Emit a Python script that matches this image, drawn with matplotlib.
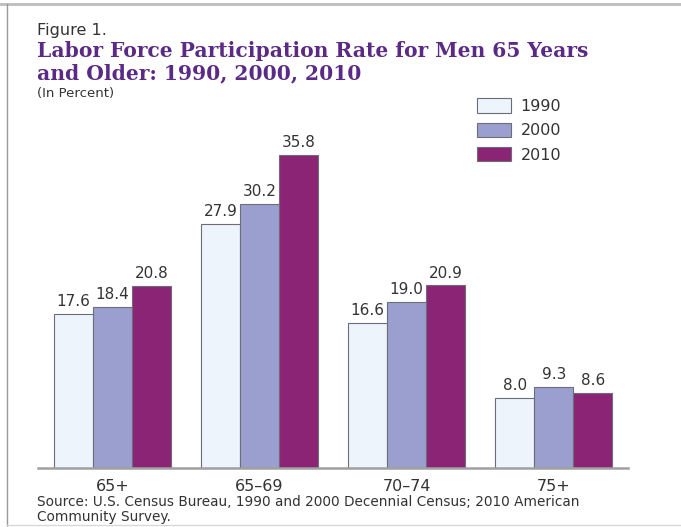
import matplotlib
matplotlib.use("Agg")
import matplotlib.pyplot as plt
import numpy as np
from matplotlib.lines import Line2D

categories = ["65+", "65\u201369", "70\u201374", "75+"]
years = ["1990", "2000", "2010"]
values_1990 = [17.6, 27.9, 16.6, 8.0]
values_2000 = [18.4, 30.2, 19.0, 9.3]
values_2010 = [20.8, 35.8, 20.9, 8.6]

colors = ["#eef4fc", "#9a9fd0", "#8c2475"]
edge = "#6d6d7a"
title_color = "#5a2a84"
text_color = "#333333"

W, H = 681, 527
fig = plt.figure(figsize=(W / 100, H / 100), dpi=100)
fig.patch.set_facecolor("white")

# axes placement in pixels
ax_left, ax_right, ax_base, ax_top = 38, 628, 468, 130
ax = fig.add_axes([ax_left / W, 1 - ax_base / H, (ax_right - ax_left) / W, (ax_base - ax_top) / H])

x = np.arange(len(categories))
bw = 0.265
series = [values_1990, values_2000, values_2010]
handles = []
for i, (vals, c, yr) in enumerate(zip(series, colors, years)):
    pos = x + (i - 1) * bw
    b = ax.bar(pos, vals, width=bw, color=c, edgecolor=edge, linewidth=0.8, label=yr, zorder=2)
    handles.append(b)
    for p, v in zip(pos, vals):
        ax.text(p, v + 0.55, f"{v:.1f}", ha="center", va="bottom", fontsize=11,
                color=text_color, family="DejaVu Sans")

ax.set_xlim(-0.505, 3.505)
ax.set_ylim(0, (ax_base - ax_top) / 8.74)
for s in ["top", "right", "left"]:
    ax.spines[s].set_visible(False)
ax.spines["bottom"].set_color("#a0a0a0")
ax.spines["bottom"].set_linewidth(1.8)
ax.set_yticks([])
ax.set_xticks(x)
ax.set_xticklabels(categories, fontsize=11.5, color=text_color, family="DejaVu Sans")
ax.tick_params(axis="x", length=0, pad=8)

# legend
ax.legend(handles=handles, loc="upper left", bbox_to_anchor=(463 / W, 1 - 84 / H),
          bbox_transform=fig.transFigure, frameon=False, labelcolor=text_color,
          handlelength=2.1, handleheight=1.0, labelspacing=0.55, handletextpad=0.6,
          prop={"family": "DejaVu Sans", "size": 11.5})

# titles
fig.text(37 / W, 1 - 31 / H, "Figure 1.", fontsize=11.5, color=text_color, va="center", family="DejaVu Sans")
fig.text(37 / W, 1 - 51 / H, "Labor Force Participation Rate for Men 65 Years",
         fontsize=14.6, fontweight="bold", color=title_color, va="center", family="DejaVu Serif")
fig.text(37 / W, 1 - 73 / H, "and Older: 1990, 2000, 2010",
         fontsize=14.6, fontweight="bold", color=title_color, va="center", family="DejaVu Serif")
fig.text(37 / W, 1 - 93 / H, "(In Percent)", fontsize=9.5, color=text_color, va="center", family="DejaVu Sans")

# source note
fig.text(37 / W, 1 - 502 / H, "Source: U.S. Census Bureau, 1990 and 2000 Decennial Census; 2010 American",
         fontsize=9.8, color=text_color, va="center", family="DejaVu Sans")
fig.text(37 / W, 1 - 517 / H, "Community Survey.", fontsize=9.8, color=text_color, va="center", family="DejaVu Sans")

# outer frame
fig.add_artist(Line2D([0, 1], [1 - 4 / H, 1 - 4 / H], transform=fig.transFigure, color="#bdbdbd", linewidth=2))
fig.add_artist(Line2D([7 / W, 7 / W], [0, 1 - 4 / H], transform=fig.transFigure, color="#9a9a9a", linewidth=1))
fig.add_artist(Line2D([7 / W, 1], [1 - 525 / H, 1 - 525 / H], transform=fig.transFigure, color="#d8d8d8", linewidth=1))

fig.savefig("out.png", dpi=100)
